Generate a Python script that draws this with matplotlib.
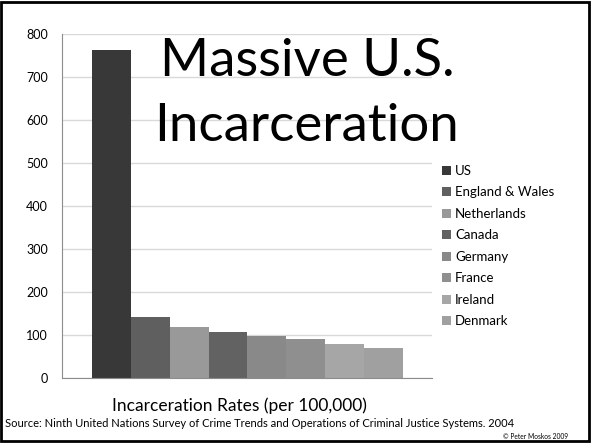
from matplotlib import pyplot as plt
from matplotlib.patches import Rectangle

# Data
countries = ["US", "England & Wales", "Netherlands", "Canada", "Germany", "France", "Ireland", "Denmark"]
rates = [763, 142, 119, 107, 98, 91, 79, 70]
colors = ["#383838", "#5f5f5f", "#999999", "#626262", "#898989", "#8f8f8f", "#a6a6a6", "#a0a0a0"]
yticks = [0, 100, 200, 300, 400, 500, 600, 700, 800]

plt.rcParams['font.family'] = ['Lato', 'DejaVu Sans']

fig = plt.figure(figsize=(5.91, 4.43), dpi=100)
ax = fig.add_axes([0.105, 0.147, 0.626, 0.776])

# bars, one per country, side by side
bars = ax.bar(range(len(countries)), rates, width=1.0, color=colors, zorder=2)
ax.set_xlim(-1.27, 8.25)
ax.set_ylim(0, 800)
ax.set_yticks(yticks)
ax.tick_params(axis='y', length=0, labelsize=9, pad=10)
ax.set_xticks([])
ax.grid(axis='y', color='#d9d9d9', linewidth=1, zorder=0)
for s in ['top', 'right']:
    ax.spines[s].set_visible(False)
ax.spines['left'].set_color('#8c8c8c')
ax.spines['bottom'].set_color('#8c8c8c')

# title over the plot
ax.text(0.662, 0.99, "Massive U.S.\nIncarceration", transform=ax.transAxes, ha='center', va='top',
        fontsize=38, linespacing=1.48, zorder=3)

# legend
ax.legend(bars, countries, loc='upper left', bbox_to_anchor=(1.012, 0.635), frameon=False,
          fontsize=9.5, handlelength=0.7, handleheight=0.7, handletextpad=0.3, labelspacing=0.72,
          borderaxespad=0)

fig.text(0.405, 0.085, "Incarceration Rates (per 100,000)", ha='center', va='center', fontsize=12.5)
fig.text(0.009, 0.045, "Source: Ninth United Nations Survey of Crime Trends and Operations of Criminal Justice Systems. 2004",
         ha='left', va='center', fontsize=8)
fig.text(0.961, 0.015, "\u00a9 Peter Moskos 2009", ha='right', va='center', fontsize=4.8)

# slide border
fig.patches.append(Rectangle((0.002, 0.004), 0.994, 0.992, transform=fig.transFigure,
                             fill=False, edgecolor='black', linewidth=2))

plt.savefig('out.png', dpi=100)
plt.close()
